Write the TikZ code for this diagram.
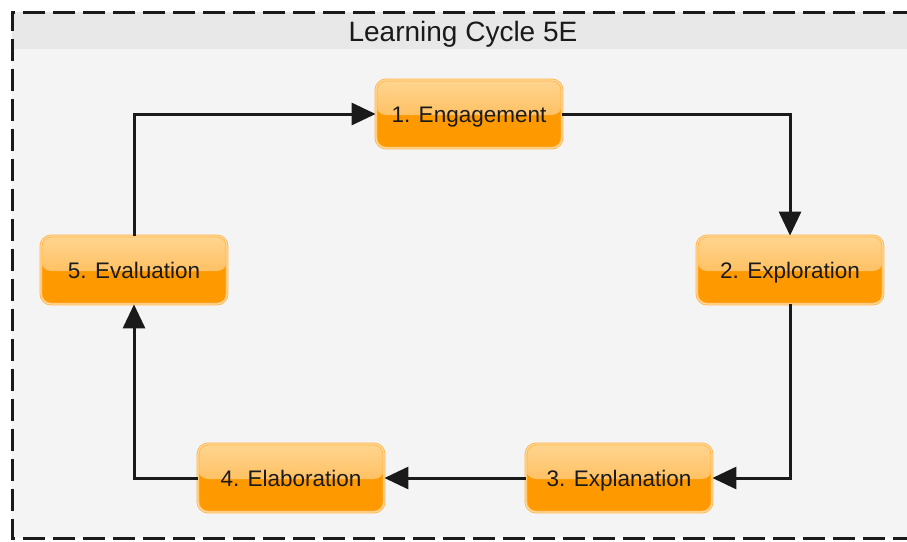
\documentclass[tikz,border=0pt]{standalone}
\usepackage{fontspec}
\setmainfont{Liberation Sans}
\usetikzlibrary{arrows.meta}
\definecolor{bodybg}{HTML}{F4F4F4}
\definecolor{headbg}{HTML}{E8E8E8}
\definecolor{orfill}{HTML}{FF9900}
\definecolor{ortop}{HTML}{FFD590}
\definecolor{ormid}{HTML}{FFAE3A}
\definecolor{orline}{HTML}{FFB547}
\definecolor{orgap}{HTML}{FFD9A0}
\definecolor{ink}{HTML}{1A1A1A}
\tikzset{
  stage/.style={rectangle, rounded corners=10pt, minimum width=186pt, minimum height=68pt,
    fill=orfill, draw=orline, double=orgap, line width=0.8pt, double distance=1.2pt,
    font=\fontsize{22.5}{24}\selectfont, text=ink, text height=16pt, text depth=0pt,
    path picture={\shade[top color=ortop, bottom color=ormid]
      (path picture bounding box.north west) rectangle ([yshift=-1pt]path picture bounding box.east);}},
  link/.style={draw=ink, line width=3pt, -{Triangle[length=24pt,width=22pt]}},
}
\begin{document}
\begin{tikzpicture}[x=1pt,y=-1pt]
\useasboundingbox (0,0) rectangle (907,541);
\fill[bodybg] (12,12) rectangle (915,538);
\fill[headbg] (12,12) rectangle (915,49);
\draw[ink, line width=3pt, dash pattern=on 22pt off 8pt] (915,12) -- (12,12) -- (12,538) -- (915,538);
\node[font=\fontsize{28}{30}\selectfont, text=ink, text height=20pt, text depth=0pt] (title) at (463,31) {Learning Cycle 5E};
\node[stage] (eng) at (469,114) {1. Engagement};
\node[stage] (exp) at (790,270) {2. Exploration};
\node[stage] (expl) at (619,478) {3. Explanation};
\node[stage] (ela) at (291,478) {4. Elaboration};
\node[stage] (eva) at (134,270) {5. Evaluation};
\draw[link] (eva.north) |- (eng.west);
\draw[link] (eng.east) -| (exp.north);
\draw[link] (exp.south) |- (expl.east);
\draw[link] (expl.west) -- (ela.east);
\draw[link] (ela.west) -| (eva.south);
\end{tikzpicture}
\end{document}
